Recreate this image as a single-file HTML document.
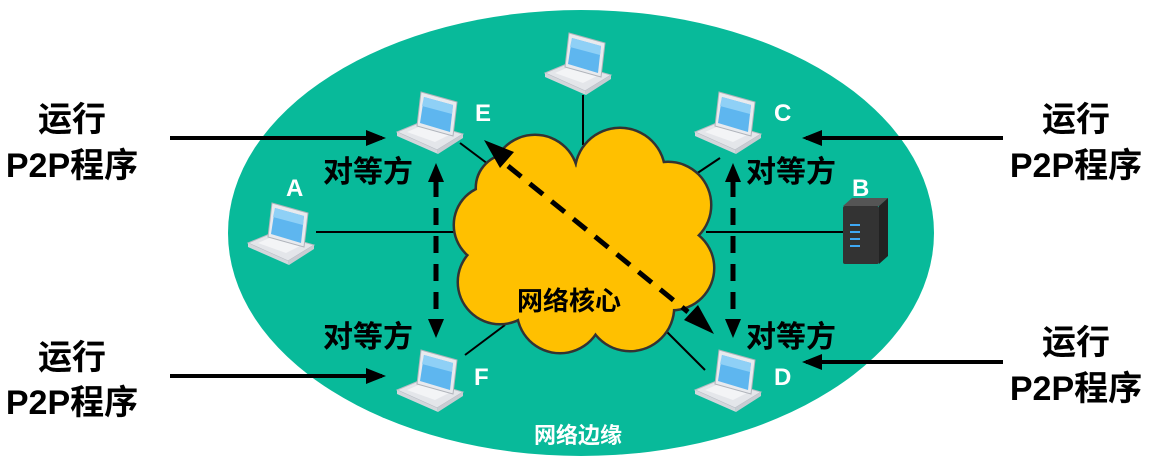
<!DOCTYPE html>
<html><head><meta charset="utf-8"><style>
body{margin:0;background:#fff;}
svg text{font-family:"Liberation Sans","Noto Sans CJK SC",sans-serif;font-weight:bold;}
</style></head><body>
<svg width="1154" height="466" viewBox="0 0 1154 466" xmlns="http://www.w3.org/2000/svg">
<defs>
<g id="lap">
<polygon points="0,40 24,30 66,42 40,58" fill="#e4e6ea" stroke="#b8bcc4" stroke-width="1"/>
<polygon points="40,58 66,42 66,46 41,62" fill="#c8ccd2"/>
<polygon points="0,40 40,58 41,62 0,44" fill="#d4d7dc"/>
<polygon points="10,40 26,33 54,42 38,50" fill="#f3f4f6"/>
<polygon points="24,0 60,10 56,44 20,34" fill="#e8eaee" stroke="#b0b4bb"/>
<polygon points="27,5 56,13 53,40 23,31" fill="#5eb6ef"/>
<polygon points="27,5 56,13 55,22 25,14" fill="#8fd0f6"/>
</g>
<marker id="ah" markerWidth="5" markerHeight="4" refX="4" refY="2" orient="auto" markerUnits="strokeWidth"><path d="M0,0 L5,2 L0,4 z" fill="#000"/></marker>
</defs>
<ellipse cx="581" cy="233" rx="353" ry="223" fill="#08ba9a"/>
<g stroke="#000" stroke-width="2">
<line x1="583" y1="95" x2="583" y2="145"/>
<line x1="460" y1="143" x2="492" y2="167"/>
<line x1="720" y1="158" x2="690" y2="178"/>
<line x1="316" y1="232" x2="460" y2="232"/>
<line x1="706" y1="232" x2="845" y2="232"/>
<line x1="465" y1="355" x2="505" y2="325"/>
<line x1="705" y1="370" x2="665" y2="330"/>
</g>
<g stroke="#333" stroke-width="5">
<circle cx="535" cy="178" r="42"/><circle cx="620" cy="173" r="44"/><circle cx="668" cy="205" r="42"/>
<circle cx="672" cy="268" r="41"/><circle cx="630" cy="307" r="43"/><circle cx="560" cy="310" r="42"/>
<circle cx="500" cy="282" r="41"/><circle cx="494" cy="225" r="39"/><circle cx="510" cy="188" r="33"/>
</g>
<g fill="#ffc000">
<circle cx="535" cy="178" r="42"/><circle cx="620" cy="173" r="44"/><circle cx="668" cy="205" r="42"/>
<circle cx="672" cy="268" r="41"/><circle cx="630" cy="307" r="43"/><circle cx="560" cy="310" r="42"/>
<circle cx="500" cy="282" r="41"/><circle cx="494" cy="225" r="39"/><circle cx="510" cy="188" r="33"/>
<circle cx="583" cy="245" r="78"/>
</g>
<use href="#lap" x="545" y="33"/>
<use href="#lap" x="397" y="92"/>
<use href="#lap" x="695" y="92"/>
<use href="#lap" x="248" y="203"/>
<use href="#lap" x="397" y="350"/>
<use href="#lap" x="695" y="350"/>
<g>
<rect x="843" y="206" width="36" height="58" fill="#333" rx="2"/>
<polygon points="843,206 852,198 888,198 879,206" fill="#555"/>
<polygon points="879,206 888,198 888,256 879,264" fill="#222"/>
<g stroke="#3fa9f5" stroke-width="2"><line x1="850" y1="225" x2="860" y2="225"/><line x1="850" y1="232" x2="860" y2="232"/><line x1="850" y1="239" x2="860" y2="239"/><line x1="850" y1="246" x2="860" y2="246"/></g>
</g>
<g stroke="#000" stroke-width="5" fill="none">
<line x1="436" y1="180" x2="436" y2="322" stroke-dasharray="17,11"/>
<line x1="733" y1="180" x2="733" y2="322" stroke-dasharray="17,11"/>
<line x1="508" y1="166" x2="688" y2="312" stroke-dasharray="17,11"/>
</g>
<g fill="#000">
<polygon points="436,163 428,182 444,182"/>
<polygon points="436,338 428,319 444,319"/>
<polygon points="733,163 725,182 741,182"/>
<polygon points="733,338 725,319 741,319"/>
<polygon points="484,140 500,168 514,152"/>
<polygon points="714,334 684,320 698,305"/>
</g>
<g stroke="#000" stroke-width="4" marker-end="url(#ah)">
<line x1="170" y1="138" x2="382" y2="138"/>
<line x1="170" y1="376" x2="382" y2="376"/>
<line x1="1003" y1="138" x2="806" y2="138"/>
<line x1="1003" y1="362" x2="806" y2="362"/>
</g>
<g font-size="30" fill="#000">
<text x="323" y="182">对等方</text>
<text x="746" y="182">对等方</text>
<text x="323" y="347">对等方</text>
<text x="746" y="347">对等方</text>
<text x="517" y="310" font-size="26">网络核心</text>
</g>
<g font-size="24" fill="#fff">
<text x="475" y="121">E</text>
<text x="774" y="121">C</text>
<text x="286" y="196">A</text>
<text x="852" y="196">B</text>
<text x="474" y="385">F</text>
<text x="774" y="385">D</text>
<text x="578" y="443" text-anchor="middle" font-size="22">网络边缘</text>
</g>
<g font-size="34" fill="#000" text-anchor="middle">
<text x="72" y="131">运行</text>
<text x="72" y="177">P2P程序</text>
<text x="72" y="369">运行</text>
<text x="72" y="414">P2P程序</text>
<text x="1076" y="131">运行</text>
<text x="1076" y="177">P2P程序</text>
<text x="1076" y="354">运行</text>
<text x="1076" y="400">P2P程序</text>
</g>
</svg>
</body></html>
